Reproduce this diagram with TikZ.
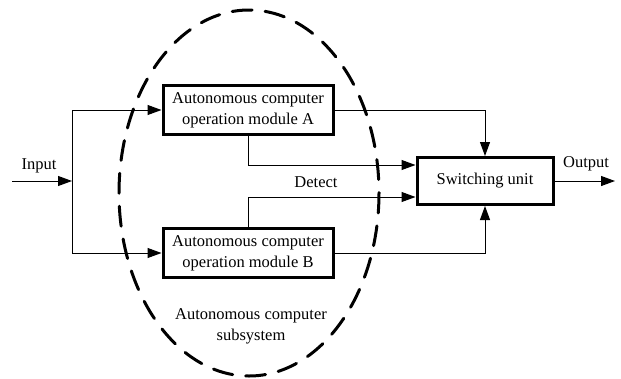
\documentclass[tikz,border=0pt]{standalone}
\usepackage{fontspec}
\setmainfont{Liberation Serif}
\newfontfamily\tnrfont{Liberation Serif}
\usetikzlibrary{arrows.meta}
\begin{document}
\begin{tikzpicture}[x=1pt,y=-1pt,
  box/.style={draw=black, line width=3pt, minimum width=170pt, minimum height=49pt, align=center, inner sep=0pt, font=\tnrfont\fontsize{16.5}{21}\selectfont},
  lbl/.style={align=center, inner sep=0pt, font=\tnrfont\fontsize{16.5}{21}\selectfont},
  conn/.style={line width=1pt, -{Triangle[length=14pt,width=10pt]}},
  subsys/.style={draw=black, line width=3pt, dash pattern=on 20pt off 13pt, line cap=round}]
\useasboundingbox (0,0) rectangle (621,378);
\node[box] (A) at (248,110) {Autonomous computer\\operation module A};
\node[box] (B) at (248,253) {Autonomous computer\\operation module B};
\node[box, minimum width=136pt, minimum height=47pt] (S) at (485,181) {Switching unit};
\coordinate (in) at (12,181);
\coordinate (J) at (72,181);
\coordinate (out) at (615,181);
\draw[subsys] (249,193) ellipse [x radius=130, y radius=183];
\draw[conn] (in) -- (J);
\draw[conn] (J) |- (A.west);
\draw[conn] (J) |- (B.west);
\draw[conn] (A.east) -| (S.north);
\draw[conn] (B.east) -| (S.south);
\draw[conn] (A.south) |- ([yshift=16pt]S.west);
\draw[conn] (B.north) |- ([yshift=-16pt]S.west);
\draw[conn] (S.east) -- (out);
\node[lbl] (inl) at (39,166) {Input};
\node[lbl] (outl) at (586,164) {Output};
\node[lbl] (det) at (316,182) {Detect};
\node[lbl] (sub) at (251,326) {Autonomous computer\\subsystem};
\end{tikzpicture}
\end{document}
